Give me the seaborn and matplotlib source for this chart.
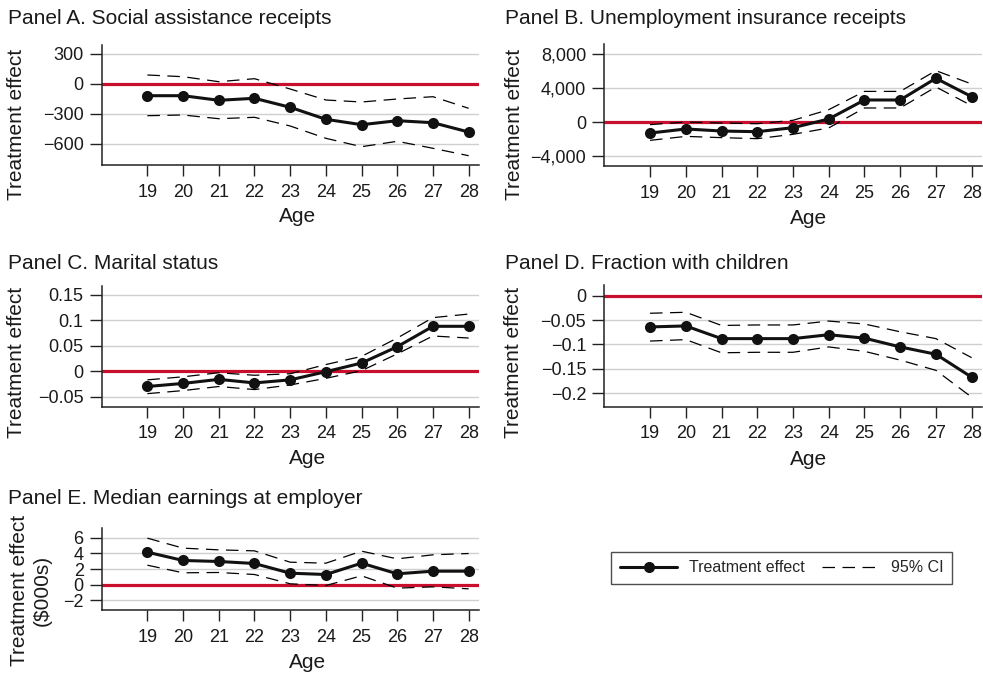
import numpy as np
import pandas as pd
import matplotlib
matplotlib.use("Agg")
import matplotlib.pyplot as plt
from matplotlib.lines import Line2D
from matplotlib.ticker import FixedLocator, FuncFormatter
import seaborn as sns

sns.set_style("ticks")
plt.rcParams["font.family"] = ["Liberation Sans", "DejaVu Sans"]
plt.rcParams["axes.unicode_minus"] = True

# ---- data -------------------------------------------------------------
ages = [19, 20, 21, 22, 23, 24, 25, 26, 27, 28]

social_est = [-117, -117, -163, -143, -233, -353, -407, -367, -387, -480]
social_hi = [90, 73, 23, 53, -50, -160, -180, -150, -127, -243]
social_lo = [-317, -310, -347, -333, -420, -543, -627, -573, -643, -717]

ui_est = [-1300, -820, -1060, -1140, -670, 350, 2590, 2590, 5140, 2980]
ui_hi = [-310, 0, -120, -200, 200, 1450, 3600, 3600, 6040, 4470]
ui_lo = [-2160, -1690, -1840, -1960, -1450, -700, 1650, 1650, 4120, 1920]

marital_est = [-0.030, -0.024, -0.016, -0.023, -0.017, -0.001, 0.016, 0.048, 0.088, 0.088]
marital_hi = [-0.017, -0.011, -0.003, -0.008, -0.005, 0.013, 0.029, 0.065, 0.105, 0.112]
marital_lo = [-0.044, -0.038, -0.030, -0.036, -0.027, -0.014, 0.001, 0.034, 0.069, 0.065]

children_est = [-0.064, -0.062, -0.088, -0.088, -0.088, -0.080, -0.087, -0.105, -0.120, -0.167]
children_hi = [-0.036, -0.034, -0.061, -0.060, -0.060, -0.052, -0.058, -0.074, -0.088, -0.127]
children_lo = [-0.093, -0.090, -0.117, -0.116, -0.116, -0.105, -0.114, -0.132, -0.153, -0.208]

earn_est = [4.17, 3.10, 2.97, 2.71, 1.46, 1.29, 2.75, 1.38, 1.72, 1.72]
earn_hi = [5.98, 4.69, 4.47, 4.34, 2.88, 2.75, 4.30, 3.31, 3.83, 4.00]
earn_lo = [2.49, 1.51, 1.55, 1.29, 0.09, -0.13, 1.12, -0.47, -0.30, -0.56]

titles = [
    "Panel A. Social assistance receipts",
    "Panel B. Unemployment insurance receipts",
    "Panel C. Marital status",
    "Panel D. Fraction with children",
    "Panel E. Median earnings at employer",
]
yticks_a = [300, 0, -300, -600]
yticks_b = [8000, 4000, 0, -4000]
yticks_c = [0.15, 0.1, 0.05, 0, -0.05]
yticks_d = [0, -0.05, -0.1, -0.15, -0.2]
yticks_e = [6, 4, 2, 0, -2]

# ---- layout helpers (pixel geometry of a 983x675 canvas) ----------------
W, H = 983, 675
fig = plt.figure(figsize=(W / 100, H / 100), dpi=100)


def rect(l, t, r, b):
    return [l / W, 1 - b / H, (r - l) / W, (b - t) / H]


def fx(x):
    return x / W


def fy(y):
    return 1 - y / H


RED = "#c8102e"
INK = "#222222"


def fmt_num(v, pos=None):
    if float(v).is_integer():
        s = f"{abs(int(v)):,}"
    else:
        s = f"{abs(v):g}"
    return ("\u2212" + s) if v < 0 else s


def draw_panel(box, est, hi, lo, yticks, ylim, title, title_xy, ylabel, ylabel_xy, age_xy):
    ax = fig.add_axes(rect(*box))
    ax.set_facecolor("white")
    for y in yticks:
        if y != 0:
            ax.axhline(y, color="#cfcfcf", lw=1.0, zorder=1)
    ax.axhline(0, color=RED, lw=2.3, zorder=2)

    df = pd.DataFrame({"age": ages, "est": est, "hi": hi, "lo": lo})
    for col in ("hi", "lo"):
        sns.lineplot(data=df, x="age", y=col, ax=ax, color="black", lw=0.9,
                     linestyle=(0, (10, 6)), zorder=3)
    sns.lineplot(data=df, x="age", y="est", ax=ax, color="#111111", lw=2.2,
                 marker="o", markersize=8, markeredgewidth=0, zorder=4)

    ax.set_xlim(17.72, 28.29)
    ax.set_ylim(*ylim)
    ax.xaxis.set_major_locator(FixedLocator(ages))
    ax.yaxis.set_major_locator(FixedLocator(yticks))
    ax.yaxis.set_major_formatter(FuncFormatter(fmt_num))
    ax.set_xlabel("")
    ax.set_ylabel("")
    for s in ("top", "right"):
        ax.spines[s].set_visible(False)
    for s in ("left", "bottom"):
        ax.spines[s].set_color(INK)
        ax.spines[s].set_linewidth(1.1)
    ax.tick_params(axis="x", length=8, width=1.0, color=INK, pad=5.5,
                   labelsize=13, labelcolor="#1a1a1a")
    ax.tick_params(axis="y", length=9, width=1.0, color=INK, pad=4,
                   labelsize=13, labelcolor="#1a1a1a")

    fig.text(fx(title_xy[0]), fy(title_xy[1]), title, fontsize=15,
             color="#1a1a1a", ha="left", va="baseline")
    fig.text(fx(ylabel_xy[0]), fy(ylabel_xy[1]), ylabel, fontsize=15,
             color="#1a1a1a", rotation=90, ha="center", va="center",
             multialignment="center", linespacing=1.25)
    fig.text(fx(age_xy[0]), fy(age_xy[1]), "Age", fontsize=15,
             color="#1a1a1a", ha="center", va="baseline")
    return ax


draw_panel((101.7, 45, 479, 165), social_est, social_hi, social_lo, yticks_a,
           (-810, 390), titles[0], (8, 24), "Treatment effect", (17, 124), (298, 222.5))
draw_panel((604.3, 44, 982, 166), ui_est, ui_hi, ui_lo, yticks_b,
           (-5176, 9176), titles[1], (505, 24.5), "Treatment effect", (514, 124.5), (809, 224))
draw_panel((101.7, 286, 479, 406.7), marital_est, marital_hi, marital_lo, yticks_c,
           (-0.0696, 0.167), titles[2], (8, 269.5), "Treatment effect", (17, 362.5), (308, 464))
draw_panel((604.3, 285, 982, 406.7), children_est, children_hi, children_lo, yticks_d,
           (-0.2275, 0.0219), titles[3], (505, 269.5), "Treatment effect", (513.5, 362.5), (809, 465))
draw_panel((101.7, 528, 479, 610), earn_est, earn_hi, earn_lo, yticks_e,
           (-3.29, 7.29), titles[4], (8, 504.5), "Treatment effect\n($000s)", (31, 590), (307.5, 668))

# ---- shared legend ------------------------------------------------------
handles = [
    Line2D([], [], color="#111111", lw=2.2, marker="o", markersize=8, markeredgewidth=0),
    Line2D([], [], color="black", lw=0.9, linestyle=(0, (10, 6))),
]
leg = fig.legend(handles, ["Treatment effect", "95% CI"], loc="center",
                 bbox_to_anchor=(fx(781.5), fy(568)), ncol=2, frameon=True,
                 fancybox=False, fontsize=11.5, handlelength=3.6,
                 handletextpad=0.7, columnspacing=1.1, borderpad=0.55)
leg.get_frame().set_edgecolor("#222222")
leg.get_frame().set_linewidth(1.0)

fig.savefig("out.png", dpi=100, facecolor="white")
